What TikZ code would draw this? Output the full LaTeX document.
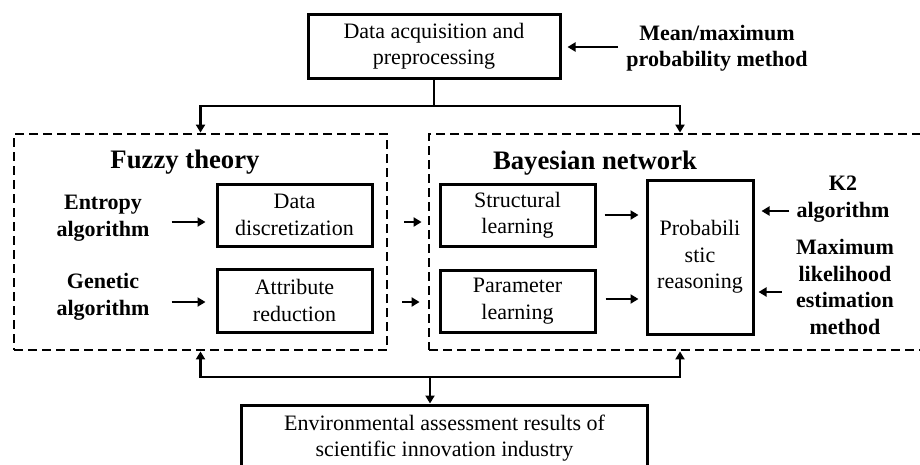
\documentclass[tikz,border=0pt]{standalone}
\usepackage{fontspec}
\setmainfont{Liberation Serif}
\usetikzlibrary{arrows.meta}
\begin{document}
\begin{tikzpicture}[x=1pt,y=-1pt,
  box/.style={draw, line width=3pt, align=center, inner sep=0pt, font=\fontsize{22}{26.5}\selectfont},
  lab/.style={align=center, inner sep=0pt, font=\fontsize{22}{26.5}\selectfont\bfseries},
  grp/.style={draw, line width=2.8pt, dash pattern=on 9pt off 5pt, inner sep=0pt},
  ttl/.style={inner sep=0pt, font=\fontsize{26.7}{30}\selectfont\bfseries},
  conn/.style={line width=2.8pt},
  arr/.style={line width=2.6pt, -{Triangle[length=8pt,width=9pt]}}]
\useasboundingbox (0,0) rectangle (920,464);

% groups
\node[grp, minimum width=373pt, minimum height=216pt] (fuzzy) at (200.5,242) {};
\node[grp, minimum width=502pt, minimum height=216pt] (bayes) at (680,242) {};
\node[ttl] (tf) at (185,162) {Fuzzy theory};
\node[ttl] (tb) at (595,163) {Bayesian network};

% boxes
\node[box, minimum width=252pt, minimum height=64pt] (top) at (434,46) {Data acquisition and\\preprocessing};
\node[box, minimum width=155pt, minimum height=62pt] (disc) at (294.5,215) {Data\\discretization};
\node[box, minimum width=155pt, minimum height=63pt] (attr) at (294.5,300.5) {Attribute\\reduction};
\node[box, minimum width=155pt, minimum height=62pt] (struct) at (517.5,215) {Structural\\learning};
\node[box, minimum width=155pt, minimum height=62pt] (param) at (517.5,301) {Parameter\\learning};
\node[box, minimum width=106pt, minimum height=154pt] (prob) at (700,257) {Probabili\\stic\\reasoning};
\node[box, minimum width=406pt, minimum height=66pt] (env) at (444.5,438) {Environmental assessment results of\\scientific innovation industry};

% labels
\node[lab] (mean) at (717,48) {Mean/maximum\\probability method};
\node[lab] (ent) at (103,218) {Entropy\\algorithm};
\node[lab] (gen) at (103,297) {Genetic\\algorithm};
\node[lab] (k2) at (843,199) {K2\\algorithm};
\node[lab] (ml) at (845,287) {Maximum\\likelihood\\estimation\\method};

% connectors
\draw[arr, shorten <=8pt, shorten >=6pt] (mean.west |- 0,47) -- (top.east |- 0,47);
\coordinate (split) at (top.south |- 0,106);
\draw[conn] (top.south) -- (split);
\draw[arr] (split) -| (fuzzy.north);
\draw[arr] (split) -| (bayes.north);

\draw[arr, shorten <=22pt, shorten >=10pt] (ent.east |- 0,222) -- (disc.west |- 0,222);
\draw[arr, shorten <=22pt, shorten >=10pt] (gen.east |- 0,302) -- (attr.west |- 0,302);
\draw[arr, shorten <=16pt, shorten >=6pt] (fuzzy.east |- 0,222) -- (bayes.west |- 0,222);
\draw[arr, shorten <=14pt, shorten >=8pt] (fuzzy.east |- 0,302) -- (bayes.west |- 0,302);
\draw[arr, shorten <=8pt, shorten >=7pt] (struct.east |- 0,215) -- (prob.west |- 0,215);
\draw[arr, shorten <=9pt, shorten >=7pt] (param.east |- 0,299) -- (prob.west |- 0,299);
\draw[arr, shorten <=7pt, shorten >=7pt] (k2.west |- 0,211) -- (prob.east |- 0,211);
\draw[arr, shorten <=14pt, shorten >=4pt] (ml.west |- 0,292) -- (prob.east |- 0,292);

\coordinate (join) at (430,377);
\draw[arr] (join) -| (fuzzy.south);
\draw[arr] (join) -| (bayes.south);
\draw[arr] (join) -- (join |- env.north);
\end{tikzpicture}
\end{document}
